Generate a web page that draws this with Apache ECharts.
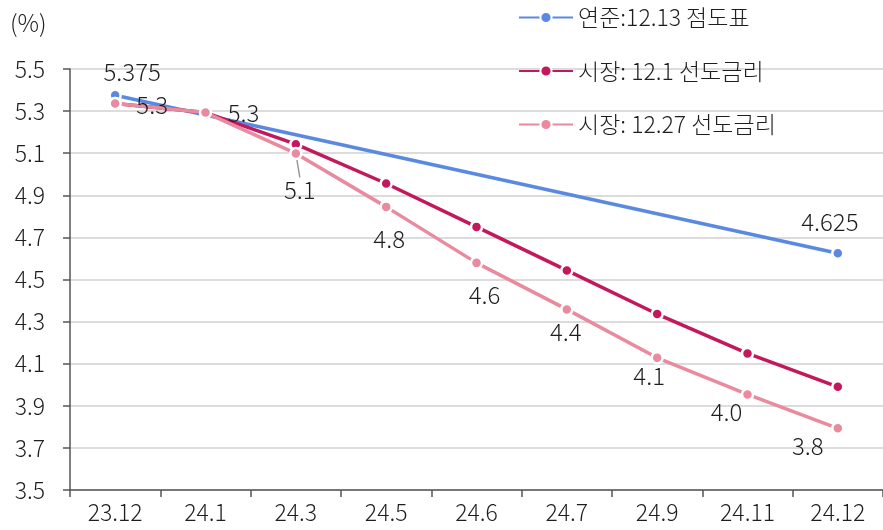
<!DOCTYPE html>
<html>
<head>
<meta charset="utf-8">
<script src="https://cdn.jsdelivr.net/npm/echarts@6/dist/echarts.min.js"></script>
<style>
  html, body { margin: 0; padding: 0; background: #fff; }
  #chart { width: 883px; height: 530px; }
</style>
</head>
<body>
<div id="chart"></div>
<script>
// Policy-rate path: Fed dot plot vs. market-implied forward rates (%)
const categories = ['23.12', '24.1', '24.3', '24.5', '24.6', '24.7', '24.9', '24.11', '24.12'];

const seriesNames = ['연준:12.13 점도표', '시장: 12.1 선도금리', '시장: 12.27 선도금리'];

// Dot plot: only the current level and the end-2024 median are given
const fedDots = [5.375, null, null, null, null, null, null, null, 4.625];
const fwdDec1 = [5.336, 5.293, 5.143, 4.956, 4.750, 4.543, 4.336, 4.149, 3.990];
const fwdDec27 = [5.336, 5.293, 5.099, 4.845, 4.579, 4.358, 4.128, 3.954, 3.793];

const yMin = 3.5, yMax = 5.5, yStep = 0.2;

// Label placement (pixel shift of each label from its point)
const fedLabelShift = [[17, -23], null, null, null, null, null, null, null, [-8, -31]];
const fwd27LabelShift = [[37, 1], [38, 0], [4, 36], [3, 32], [8, 32], [-1, 22], [-8, 18], [-21, 17], [-30, 18]];

const FONT = '"Noto Sans CJK KR", "Noto Sans", sans-serif';
const TEXT = '#1e1e1e';
const colors = ['#5a8ae0', '#c4185d', '#e98a9e'];

const chart = echarts.init(document.getElementById('chart'), null, { renderer: 'canvas' });

const markerStyle = (c) => ({ color: c, borderColor: '#fff', borderWidth: 2.5 });

const fedData = fedDots.map((v) => {
  if (v === null) return null;
  return { value: v, label: { show: true } };
});

const fwd27Data = fwdDec27.map((v, i) => {
  const item = { value: v };
  if (i === 2) item.labelLine = { show: true, lineStyle: { color: '#9a9a9a', width: 1.5 } };
  return item;
});

const labelBase = {
  position: 'inside',
  fontFamily: FONT,
  fontSize: 24,
  fontWeight: 300,
  color: TEXT
};

chart.setOption({
  animation: false,
  textStyle: { fontFamily: FONT },
  title: {
    text: '(%)',
    left: 5,
    top: 6,
    textStyle: { fontFamily: FONT, fontSize: 24, fontWeight: 300, color: TEXT }
  },
  legend: {
    orient: 'vertical',
    left: 518,
    top: 5,
    padding: 0,
    itemWidth: 54,
    itemHeight: 14,
    itemGap: 28.5,
    data: seriesNames,
    textStyle: { fontFamily: FONT, fontSize: 23, fontWeight: 300, color: TEXT, lineHeight: 25 }
  },
  grid: { left: 70, right: -2, top: 69, bottom: 40, containLabel: false },
  xAxis: {
    type: 'category',
    data: categories,
    boundaryGap: true,
    axisLine: { lineStyle: { color: '#555', width: 1.5 } },
    axisTick: { show: true, length: 7, lineStyle: { color: '#555', width: 1.5 } },
    axisLabel: { fontFamily: FONT, fontSize: 23, fontWeight: 300, color: TEXT, margin: 11 },
    splitLine: { show: false }
  },
  yAxis: {
    type: 'value',
    min: yMin,
    max: yMax,
    interval: yStep,
    axisLine: { show: true, lineStyle: { color: '#555', width: 1.5 } },
    axisTick: { show: true, length: 7, lineStyle: { color: '#555', width: 1.5 } },
    axisLabel: {
      fontFamily: FONT, fontSize: 23, fontWeight: 300, color: TEXT, margin: 25,
      formatter: (v) => v.toFixed(1)
    },
    splitLine: { lineStyle: { color: '#dcdcdc', width: 2 } }
  },
  series: [
    {
      name: seriesNames[0],
      type: 'line',
      data: fedData,
      connectNulls: true,
      color: colors[0],
      symbol: 'circle',
      symbolSize: 11,
      lineStyle: { width: 3.5, color: colors[0] },
      itemStyle: markerStyle(colors[0]),
      label: Object.assign({ show: false, formatter: (p) => String(p.value) }, labelBase),
      labelLayout: (p) => {
        const s = fedLabelShift[p.dataIndex];
        return s ? { dx: s[0], dy: s[1] } : {};
      },
      z: 2
    },
    {
      name: seriesNames[1],
      type: 'line',
      data: fwdDec1,
      color: colors[1],
      symbol: 'circle',
      symbolSize: 11,
      lineStyle: { width: 3.5, color: colors[1] },
      itemStyle: markerStyle(colors[1]),
      z: 3
    },
    {
      name: seriesNames[2],
      type: 'line',
      data: fwd27Data,
      color: colors[2],
      symbol: 'circle',
      symbolSize: 11,
      lineStyle: { width: 3.5, color: colors[2] },
      itemStyle: markerStyle(colors[2]),
      label: Object.assign({ show: true, formatter: (p) => p.value.toFixed(1) }, labelBase),
      labelLine: { show: false },
      labelLayout: (p) => {
        const s = fwd27LabelShift[p.dataIndex];
        return { dx: s[0], dy: s[1] };
      },
      z: 4
    }
  ]
});
</script>
</body>
</html>
